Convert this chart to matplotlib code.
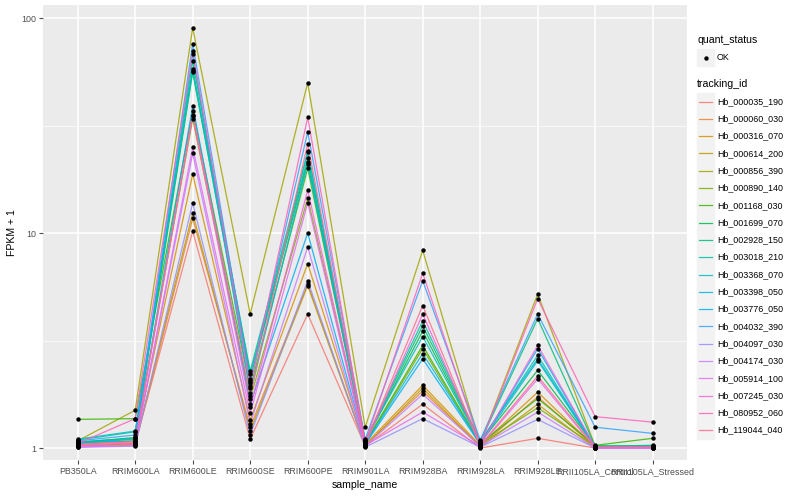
import numpy as np
import matplotlib
matplotlib.use("Agg")
import matplotlib.pyplot as plt
from matplotlib.lines import Line2D
from matplotlib.patches import Rectangle

plt.rcParams['font.family'] = ['Liberation Sans', 'DejaVu Sans']

samples = ["PB350LA", "RRIM600LA", "RRIM600LE", "RRIM600SE", "RRIM600PE",
           "RRIM901LA", "RRIM928BA", "RRIM928LA", "RRIM928LE",
           "RRII105LA_Control", "RRII105LA_Stressed"]

tracking_ids = ["Hb_000035_190", "Hb_000060_030", "Hb_000316_070", "Hb_000614_200",
                "Hb_000856_390", "Hb_000890_140", "Hb_001168_030", "Hb_001699_070",
                "Hb_002928_150", "Hb_003018_210", "Hb_003368_070", "Hb_003398_050",
                "Hb_003776_050", "Hb_004032_390", "Hb_004097_030", "Hb_004174_030",
                "Hb_005914_100", "Hb_007245_030", "Hb_080952_060", "Hb_119044_040"]

colors = ["#F8766D", "#EA8331", "#D89000", "#C09B00", "#A3A500", "#7CAE00",
          "#39B600", "#00BB4E", "#00BF7D", "#00C1A3", "#00BFC4", "#00BAE0",
          "#00B0F6", "#35A2FF", "#9590FF", "#C77CFF", "#E76BF3", "#FA62DB",
          "#FF62BC", "#FF6C91"]

# FPKM + 1 per gene, one value per sample
fpkm = [
    [1.02, 1.05, 10.2, 1.10, 4.2, 1.02, 1.60, 1.00, 1.11, 1.00, 1.00],
    [1.03, 1.04, 11.7, 1.25, 5.8, 1.03, 1.84, 1.02, 1.73, 1.01, 1.01],
    [1.04, 1.08, 18.8, 1.35, 7.2, 1.04, 1.96, 1.03, 1.82, 1.01, 1.02],
    [1.02, 1.05, 12.4, 1.20, 5.7, 1.02, 1.90, 1.01, 1.60, 1.00, 1.01],
    [1.08, 1.50, 90.0, 4.20, 50.0, 1.25, 8.30, 1.05, 5.20, 1.02, 1.02],
    [1.05, 1.10, 34.0, 1.70, 14.5, 1.05, 2.90, 1.04, 1.54, 1.02, 1.01],
    [1.36, 1.37, 37.0, 1.90, 20.0, 1.06, 3.00, 1.05, 1.70, 1.03, 1.11],
    [1.06, 1.12, 56.0, 2.10, 21.5, 1.07, 3.50, 1.06, 2.30, 1.02, 1.02],
    [1.07, 1.11, 63.0, 2.20, 22.3, 1.08, 3.70, 1.07, 4.00, 1.02, 1.03],
    [1.09, 1.19, 58.0, 2.28, 23.7, 1.08, 3.90, 1.08, 2.60, 1.02, 1.02],
    [1.10, 1.20, 57.0, 2.00, 24.0, 1.09, 3.30, 1.06, 2.70, 1.01, 1.02],
    [1.05, 1.11, 68.0, 1.80, 21.0, 1.05, 2.75, 1.05, 2.55, 1.01, 1.01],
    [1.06, 1.08, 39.0, 1.60, 10.0, 1.04, 2.60, 1.04, 2.90, 1.01, 1.01],
    [1.08, 1.15, 76.0, 2.05, 29.5, 1.10, 6.00, 1.09, 4.20, 1.25, 1.17],
    [1.01, 1.02, 13.8, 1.15, 6.0, 1.01, 1.37, 1.01, 1.36, 1.00, 1.00],
    [1.02, 1.03, 23.5, 1.30, 8.6, 1.02, 1.78, 1.02, 1.47, 1.00, 1.00],
    [1.01, 1.03, 25.0, 1.45, 13.8, 1.03, 1.47, 1.02, 2.10, 1.00, 1.00],
    [1.03, 1.06, 35.0, 1.55, 15.8, 1.04, 4.20, 1.03, 3.00, 1.01, 1.01],
    [1.05, 1.37, 70.0, 1.95, 34.5, 1.06, 6.50, 1.04, 4.95, 1.40, 1.32],
    [1.04, 1.07, 35.5, 1.75, 26.0, 1.05, 4.60, 1.03, 2.16, 1.01, 1.01],
]

fig = plt.figure(figsize=(8, 5), dpi=100)
ax = fig.add_axes([0.054, 0.08, 0.805, 0.91])
ax.set_facecolor("#EBEBEB")

x = np.arange(1, len(samples) + 1)
for vals, col in zip(fpkm, colors):
    ax.plot(x, vals, color=col, lw=0.9, alpha=0.85, zorder=2)
for vals in fpkm:
    ax.plot(x, vals, 'o', color='black', ms=3.2, mec='none', zorder=3)

ax.set_yscale('log')
ax.set_ylim(0.88, 115)
ax.set_xlim(0.4, len(samples) + 0.6)
ax.set_xticks(x)
ax.set_xticklabels(samples)
ax.set_yticks([1, 10, 100])
ax.set_yticklabels(["1", "10", "100"])
ax.set_yticks([10 ** 0.5, 10 ** 1.5], minor=True)
ax.yaxis.set_minor_formatter(plt.NullFormatter())
ax.tick_params(axis='both', which='major', labelsize=6.4, colors='#4D4D4D',
               length=3, width=0.8, pad=2)
ax.tick_params(axis='y', which='minor', length=0)
ax.grid(True, which='major', color='white', lw=1.1)
ax.grid(True, which='minor', axis='y', color='white', lw=0.5)
ax.set_axisbelow(True)
for s in ax.spines.values():
    s.set_visible(False)
ax.set_xlabel("sample_name", fontsize=7.6, labelpad=3)
ax.set_ylabel("FPKM + 1", fontsize=7.6, labelpad=3)

# legend drawn ggplot-style
px = lambda v: v / 800
py = lambda v: 1 - v / 500
fig.text(px(697), py(40), "quant_status", fontsize=7.6, va='center', ha='left')
fig.add_artist(Rectangle((px(697), py(66)), px(17), 17 / 500, color='#F2F2F2'))
fig.add_artist(Line2D([px(705.5)], [py(57.5)], marker='o', color='black', ms=3.2, mec='none'))
fig.text(px(717), py(57.5), "OK", fontsize=6.4, va='center', ha='left')

fig.text(px(697), py(84), "tracking_id", fontsize=7.6, va='center', ha='left')
for i, (name, col) in enumerate(zip(tracking_ids, colors)):
    yc = 101.5 + i * 17.3
    fig.add_artist(Rectangle((px(697), py(yc + 8.5)), px(17), 17 / 500, color='#F2F2F2'))
    fig.add_artist(Line2D([px(699), px(712)], [py(yc), py(yc)], color=col, lw=0.9, alpha=0.85))
    fig.text(px(717), py(yc), name, fontsize=6.4, va='center', ha='left')

fig.savefig("out.png", dpi=100)
